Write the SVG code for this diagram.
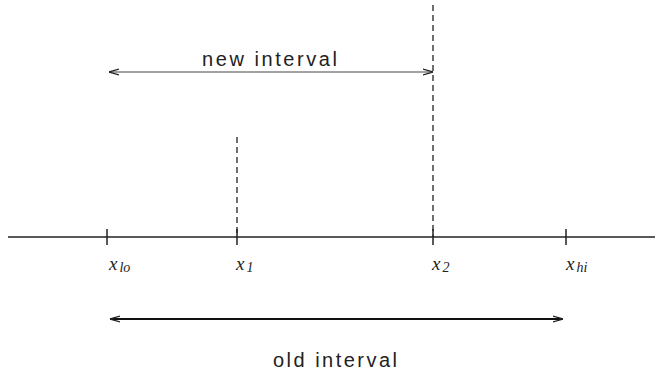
<svg xmlns="http://www.w3.org/2000/svg" width="663" height="372" viewBox="0 0 663 372">
<style>
.ax{stroke:#222;stroke-width:1.5;fill:none}
.dash{stroke:#222;stroke-width:1.3;stroke-dasharray:6,4;fill:none}
.lbl{font-family:"Liberation Sans",Arial,sans-serif;font-size:20px;fill:#222}
.m{font-family:"Liberation Serif","Times New Roman",serif;font-style:italic;font-size:19px;fill:#222}
.sub{font-family:"Liberation Serif","Times New Roman",serif;font-style:italic;font-size:14px;fill:#222}
</style>
<defs>
<marker id="ah" viewBox="0 0 10 10" refX="10" refY="5" markerWidth="10" markerHeight="10" markerUnits="userSpaceOnUse" orient="auto-start-reverse">
<path d="M0,2 L10,5 L0,8" fill="none" stroke="#222" stroke-width="1.3"/>
</marker>
</defs>
<rect width="663" height="372" fill="#fff"/>
<g id="axis">
<line class="ax" x1="8" y1="237" x2="655" y2="237"/>
<line class="ax" x1="107" y1="229" x2="107" y2="245"/>
<line class="ax" x1="237" y1="229" x2="237" y2="245"/>
<line class="ax" x1="433" y1="229" x2="433" y2="245"/>
<line class="ax" x1="566" y1="229" x2="566" y2="245"/>
</g>
<g id="connectors">
<line class="dash" x1="237" y1="137" x2="237" y2="237"/>
<line class="dash" x1="433" y1="5" x2="433" y2="237"/>
<line stroke="#444" stroke-width="1" x1="109" y1="72" x2="433" y2="72" marker-start="url(#ah)" marker-end="url(#ah)"/>
<line stroke="#111" stroke-width="2" x1="110" y1="319" x2="563" y2="319" marker-start="url(#ah)" marker-end="url(#ah)"/>
</g>
<g id="labels">
<text class="lbl" x="202" y="66" textLength="135" lengthAdjust="spacing">new interval</text>
<text class="lbl" x="273" y="367" textLength="124" lengthAdjust="spacing">old interval</text>
<text class="m" x="109" y="270">x<tspan class="sub" dx="2" dy="2">lo</tspan></text>
<text class="m" x="236" y="270">x<tspan class="sub" dx="2" dy="2">1</tspan></text>
<text class="m" x="432" y="270">x<tspan class="sub" dx="2" dy="2">2</tspan></text>
<text class="m" x="566" y="270">x<tspan class="sub" dx="2" dy="2">hi</tspan></text>
</g>
</svg>
